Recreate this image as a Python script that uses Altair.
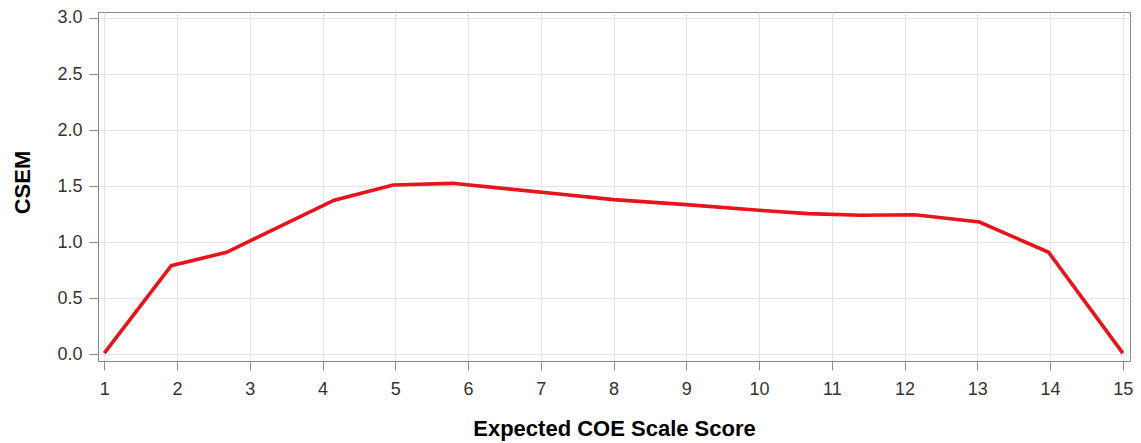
import altair as alt
import pandas as pd

scale_score = [1.0, 1.92, 2.68, 4.16, 4.97, 5.79, 7.25, 8.0, 9.0, 10.0, 10.67, 11.4, 12.14, 13.03, 13.98, 15.0]
csem = [0.01, 0.79, 0.91, 1.375, 1.51, 1.525, 1.43, 1.38, 1.335, 1.285, 1.255, 1.24, 1.245, 1.18, 0.91, 0.01]
x_ticks = list(range(1, 16))
y_ticks = [0.0, 0.5, 1.0, 1.5, 2.0, 2.5, 3.0]

df = pd.DataFrame({"score": scale_score, "csem": csem})

chart = alt.Chart(df).mark_line(color="#e8141b", strokeWidth=3.6).encode(
    x=alt.X("score:Q",
            scale=alt.Scale(domain=[0.913, 15.099], nice=False, zero=False),
            axis=alt.Axis(values=x_ticks, format="d", title="Expected COE Scale Score",
                          titleY=74, titleBaseline="alphabetic", labelPadding=10)),
    y=alt.Y("csem:Q",
            scale=alt.Scale(domain=[-0.06, 3.0535], nice=False, zero=False),
            axis=alt.Axis(values=y_ticks, format=".1f", title="CSEM",
                          titleX=-76, titleY=170, titleAngle=-90,
                          titleAlign="center", titleBaseline="middle", labelPadding=7)),
).properties(
    width=1032, height=349,
    autosize=alt.AutoSizeParams(type="none"),
    padding={"left": 90, "top": 4, "right": 3, "bottom": 80},
).configure_axis(
    labelFont="Liberation Sans", labelFontSize=18, labelColor="#333333",
    titleFont="Liberation Sans", titleFontSize=22, titleFontWeight="bold", titleColor="#000000",
    domainColor="#8a8a8a", tickColor="#8a8a8a", tickSize=9,
    gridColor="#e4e4e4", gridWidth=1,
).configure_view(stroke="#8a8a8a", strokeWidth=1)

chart.save("out.html", embed_options={"renderer": "svg", "actions": False})
